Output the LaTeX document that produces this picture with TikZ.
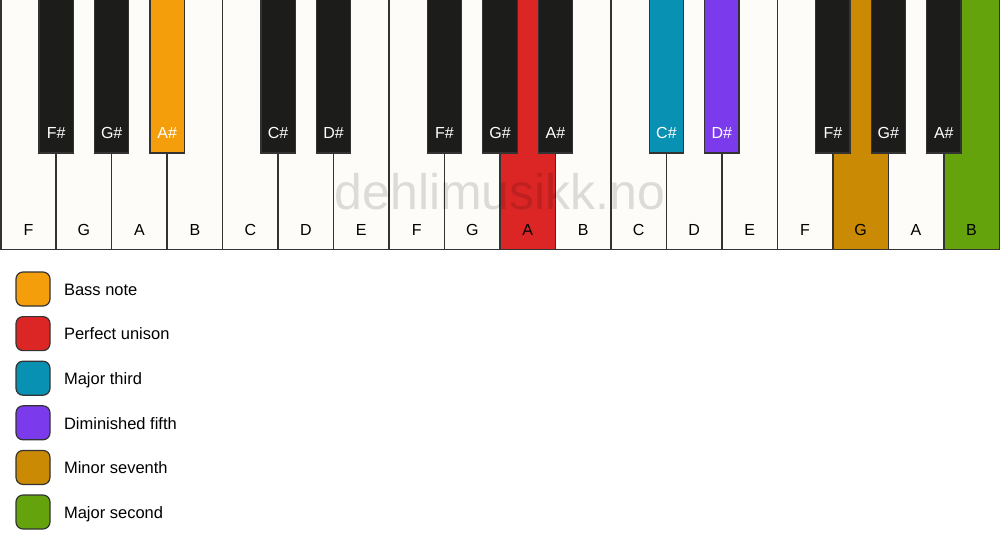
\documentclass[tikz,border=0pt]{standalone}
\usepackage{fontspec}
\setmainfont{Liberation Sans}

\definecolor{keywhite}{HTML}{FDFCF9}
\definecolor{keyblack}{HTML}{1C1C1B}
\definecolor{keyline}{HTML}{333333}
\definecolor{bassnote}{HTML}{F59E0B}
\definecolor{unison}{HTML}{DC2626}
\definecolor{majthird}{HTML}{0891B2}
\definecolor{dimfifth}{HTML}{7C3AED}
\definecolor{minseventh}{HTML}{CA8A04}
\definecolor{majsecond}{HTML}{65A30D}

\tikzset{
  whitekey/.style={draw=keyline, line width=1.5pt},
  blackkey/.style={draw=keyline, line width=1.2pt},
  keylabel/.style={anchor=base, font=\fontsize{16}{16}\selectfont},
  legendbox/.style={draw=keyline, line width=1.2pt, rounded corners=7pt},
  legendtext/.style={anchor=base west, font=\fontsize{16.5}{18}\selectfont}
}

\begin{document}
\begin{tikzpicture}[x=1pt, y=-1pt]
        \useasboundingbox (0,0) rectangle (1000,550);
        \fill[white] (0,0) rectangle (1000,550);

        % white keys
        \foreach \n/\lab/\col in {0/F/keywhite, 1/G/keywhite, 2/A/keywhite, 3/B/keywhite,
                4/C/keywhite, 5/D/keywhite, 6/E/keywhite, 7/F/keywhite, 8/G/keywhite,
                9/A/unison, 10/B/keywhite, 11/C/keywhite, 12/D/keywhite, 13/E/keywhite,
                14/F/keywhite, 15/G/minseventh, 16/A/keywhite, 17/B/majsecond} {
            \filldraw[whitekey, fill=\col] ({0.75+\n*55.472},-1) rectangle ({0.75+\n*55.472+55.472},249.25);
            \node[keylabel] (w\n) at ({0.75+\n*55.472+27.736},235.8) {\lab};
        }

        % black keys
        \foreach \b/\lab/\col in {1/F\#/keyblack, 2/G\#/keyblack, 3/A\#/bassnote,
                5/C\#/keyblack, 6/D\#/keyblack, 8/F\#/keyblack, 9/G\#/keyblack,
                10/A\#/keyblack, 12/C\#/majthird, 13/D\#/dimfifth, 15/F\#/keyblack,
                16/G\#/keyblack, 17/A\#/keyblack} {
            \filldraw[blackkey, fill=\col] ({0.75+\b*55.472-17.2},-1) rectangle ({0.75+\b*55.472+17.2},153);
            \node[keylabel, white] (k\b) at ({0.75+\b*55.472},138.8) {\lab};
        }

        \node[text=black, text opacity=0.13, font=\fontsize{50}{50}\selectfont] (mark) at (500,192) {dehlimusikk.no};

        % legend
        \foreach \i/\col/\txt in {0/bassnote/Bass note, 1/unison/Perfect unison,
                2/majthird/Major third, 3/dimfifth/Diminished fifth,
                4/minseventh/Minor seventh, 5/majsecond/Major second} {
            \filldraw[legendbox, fill=\col] (16,{272+\i*44.6}) rectangle (50,{306+\i*44.6});
            \node[legendtext] (l\i) at (60.5,{295.2+\i*44.6}) {\txt};
        }
\end{tikzpicture}
\end{document}
